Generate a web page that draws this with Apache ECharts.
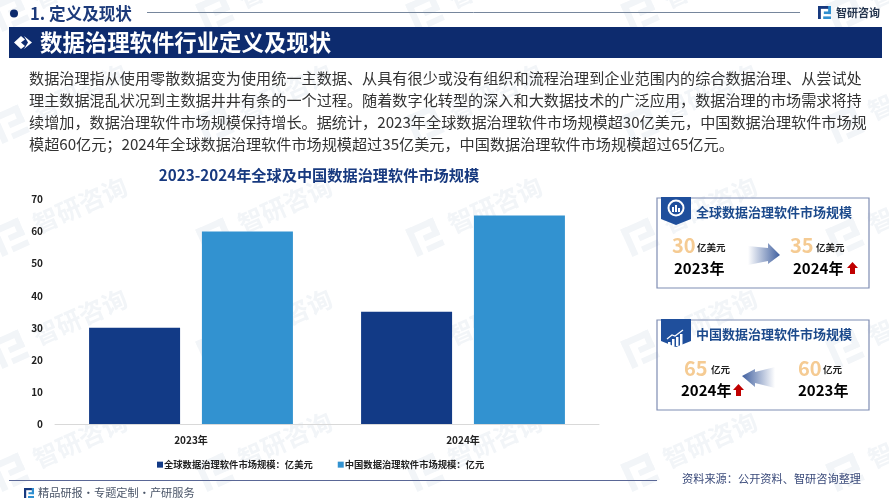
<!DOCTYPE html>
<html>
<head>
<meta charset="utf-8">
<style>html,body{margin:0;padding:0;background:#fff}#main{width:889px;height:500px}</style>
<script src="https://cdn.jsdelivr.net/npm/echarts@6/dist/echarts.min.js"></script>
</head>
<body>
<div id="main"></div>
<script>
var years = ['2023年', '2024年']
var globalName = '全球数据治理软件市场规模：亿美元'
var chinaName = '中国数据治理软件市场规模：亿元'
var globalValues = [30, 35]
var chinaValues = [60, 65]
var bodyLines = [
  '数据治理指从使用零散数据变为使用统一主数据、从具有很少或没有组织和流程治理到企业范围内的综合数据治理、从尝试处',
  '理主数据混乱状况到主数据井井有条的一个过程。随着数字化转型的深入和大数据技术的广泛应用，数据治理的市场需求将持',
  '续增加，数据治理软件市场规模保持增长。据统计，2023年全球数据治理软件市场规模超30亿美元，中国数据治理软件市场规',
  '模超60亿元；2024年全球数据治理软件市场规模超过35亿美元，中国数据治理软件市场规模超过65亿元。'
]
// 水印位置
var markCols = [80, 285, 495, 710, 915]
var markRows = [-20, 92, 205, 317, 440]

var font = '"Noto Sans CJK SC", sans-serif'
var navy = '#0d2b6e'
var chart = echarts.init(document.getElementById('main'))

var txt = function (x, y, text, size, color, weight, align, z) {
  return {
    type: 'text', x: x, y: y, z: z || 10,
    style: {
      text: text, fontFamily: font, fontSize: size, fill: color,
      fontWeight: weight || 'normal', align: align || 'left', verticalAlign: 'middle'
    }
  }
}
var poly = function (points, fill, z) {
  return { type: 'polygon', z: z || 10, shape: { points: points }, style: { fill: fill } }
}
var rect = function (x, y, w, h, style, z) {
  return { type: 'rect', z: z === undefined ? 10 : z, shape: { x: x, y: y, width: w, height: h }, style: style }
}
var line = function (x1, x2, y, color) {
  return { type: 'line', z: 10, shape: { x1: x1, y1: y, x2: x2, y2: y }, style: { stroke: color, lineWidth: 1 } }
}
var logo = function (x, y, s, color, color2, z) {
  return [
    rect(x, y, s, s * 0.22, { fill: color }, z),
    rect(x, y, s * 0.22, s, { fill: color }, z),
    rect(x + s * 0.45, y + s * 0.42, s * 0.55, s * 0.2, { fill: color2 }, z),
    rect(x + s * 0.78, y, s * 0.22, s * 0.62, { fill: color2 }, z),
    rect(x + s * 0.4, y + s * 0.8, s * 0.6, s * 0.2, { fill: color2 }, z)
  ]
}
var upArrow = function (x, y) {
  return poly([[x + 5.5, y], [x + 11, y + 6], [x + 8, y + 6], [x + 8, y + 12], [x + 3, y + 12], [x + 3, y + 6], [x, y + 6]], '#c00000')
}
var card = function (y, title) {
  return [
    rect(657, y, 212, 90, { fill: 'rgba(255,255,255,0)', stroke: '#7f8db3', lineWidth: 1.2 }, 5),
    poly([[661, y - 1], [691, y - 1], [691, y + 21], [676, y + 27], [661, y + 21]], '#1f4f9c'),
    txt(696, y + 14, title, 13, '#1c4a8c', 'bold')
  ]
}

var graphics = []
markCols.forEach(function (cx) {
  markRows.forEach(function (cy) {
    var wm = '#f2f5f8'
    graphics.push({
      type: 'group', x: cx, y: cy, rotation: Math.PI / 7.5, z: 0, silent: true,
      children: logo(-92, -14, 30, wm, wm, 0).concat([{
        type: 'text', x: 0, y: 0, z: 0,
        style: { text: '智研咨询', fontFamily: font, fontSize: 25, fontWeight: 'bold', fill: wm, align: 'center', verticalAlign: 'middle' }
      }])
    })
  })
})

// 页眉
graphics.push(
  { type: 'circle', z: 10, shape: { cx: 14, cy: 13.5, r: 4 }, style: { fill: navy } },
  txt(30, 13.5, '1. 定义及现状', 16.6, '#1c3a7a', 'bold'),
  line(147, 800, 12.5, '#76869c'),
  txt(836, 12.5, '智研咨询', 11, '#26364f', 'bold'),
  rect(9, 27, 873, 31, { fill: navy }),
  poly([[14, 42.5], [21, 36], [25, 39.5], [21, 42.5], [25, 46], [21, 49]], '#fff'),
  poly([[24, 36], [32, 42.5], [24, 49], [28, 42.5]], '#fff'),
  txt(40, 42.5, '数据治理软件行业定义及现状', 22.4, '#fff', 'bold'),
  txt(319, 175, '2023-2024年全球及中国数据治理软件市场规模', 15.2, '#17397f', 'bold', 'center')
)
graphics = graphics.concat(logo(818, 6, 13, '#17397f', '#2f8fd0'))
bodyLines.forEach(function (s, i) {
  graphics.push(txt(29, 78 + i * 22, s, 15.15, '#333'))
})

// 右侧卡片
graphics = graphics.concat(card(198, '全球数据治理软件市场规模'), card(320, '中国数据治理软件市场规模'))
var arrowGrad = function (x1, x2) {
  return new echarts.graphic.LinearGradient(x1, 0, x2, 0, [
    { offset: 0, color: 'rgba(63,95,159,0)' }, { offset: 1, color: '#3f5f9f' }
  ])
}
graphics.push(
  { type: 'circle', z: 11, shape: { cx: 676, cy: 208, r: 7.5 }, style: { fill: '#1f4f9c', stroke: '#fff', lineWidth: 2 } },
  rect(672, 207, 2, 5, { fill: '#fff' }, 12),
  rect(675, 205, 2, 7, { fill: '#fff' }, 12),
  rect(678, 208, 2, 4, { fill: '#fff' }, 12),
  txt(672, 245, '30', 20, '#f5cb93', 'bold'),
  txt(697, 247, '亿美元', 9.5, '#222', 'bold'),
  txt(674, 268, '2023年', 15, '#000', 'bold'),
  poly([[748, 246], [768, 248], [768, 243], [780, 255], [768, 264], [768, 261], [748, 265]], arrowGrad(0, 1)),
  txt(790, 245, '35', 20, '#f5cb93', 'bold'),
  txt(816, 247, '亿美元', 9.5, '#222', 'bold'),
  txt(793, 268, '2024年', 15, '#000', 'bold'),
  upArrow(847, 262),

  rect(668, 342, 2.5, 4, { fill: '#fff' }, 12),
  rect(672, 339, 2.5, 7, { fill: '#fff' }, 12),
  rect(676, 337, 2.5, 9, { fill: '#fff' }, 12),
  rect(680, 334, 2.5, 12, { fill: '#fff' }, 12),
  { type: 'polyline', z: 12, shape: { points: [[667, 339], [672, 335], [675, 336], [683, 330]] }, style: { stroke: '#fff', lineWidth: 1.2, fill: 'none' } },
  txt(684, 368, '65', 20, '#f5cb93', 'bold'),
  txt(711, 369, '亿元', 9.5, '#222', 'bold'),
  txt(681, 390, '2024年', 15, '#000', 'bold'),
  upArrow(733, 384),
  poly([[775, 367], [755, 372], [755, 369], [742, 376], [755, 387], [755, 383], [775, 388]], arrowGrad(1, 0)),
  txt(798, 368, '60', 20, '#f5cb93', 'bold'),
  txt(823, 369, '亿元', 9.5, '#222', 'bold'),
  txt(798, 390, '2023年', 15, '#000', 'bold')
)

// 页脚
graphics.push(
  line(9, 657, 480.5, '#5a6796'),
  txt(38, 493, '精品研报·专题定制·产研服务', 11.2, '#4a5568'),
  txt(682, 479, '资料来源：公开资料、智研咨询整理', 11.2, '#3a4a7a')
)
graphics = graphics.concat(logo(24, 488, 10, '#17397f', '#2f8fd0'))

chart.setOption({
  animation: false,
  backgroundColor: '#fff',
  textStyle: { fontFamily: font },
  graphic: graphics,
  legend: {
    left: 152, top: 455, itemWidth: 6, itemHeight: 6, itemGap: 25, icon: 'rect',
    textStyle: { fontSize: 9.3, fontWeight: 'bold', color: '#222', padding: [0, 0, 0, -4] },
    data: [globalName, chinaName]
  },
  grid: { left: 55, right: 290, top: 199.5, bottom: 76 },
  xAxis: {
    type: 'category',
    data: years,
    axisLine: { lineStyle: { color: '#d9d9d9' } },
    axisTick: { show: false },
    axisLabel: { fontSize: 10, fontWeight: 'bold', color: '#222', margin: 11 }
  },
  yAxis: {
    type: 'value',
    min: 0,
    max: 70,
    interval: 10,
    axisLine: { show: false },
    axisTick: { show: false },
    splitLine: { show: false },
    axisLabel: { fontSize: 10, fontWeight: 'bold', color: '#222', margin: 12 }
  },
  series: [
    { name: globalName, type: 'bar', data: globalValues, barWidth: 91, barGap: '24%', itemStyle: { color: '#123a86' }, z: 3 },
    { name: chinaName, type: 'bar', data: chinaValues, barWidth: 91, itemStyle: { color: '#3292d0' }, z: 3 }
  ]
})
</script>
</body>
</html>
